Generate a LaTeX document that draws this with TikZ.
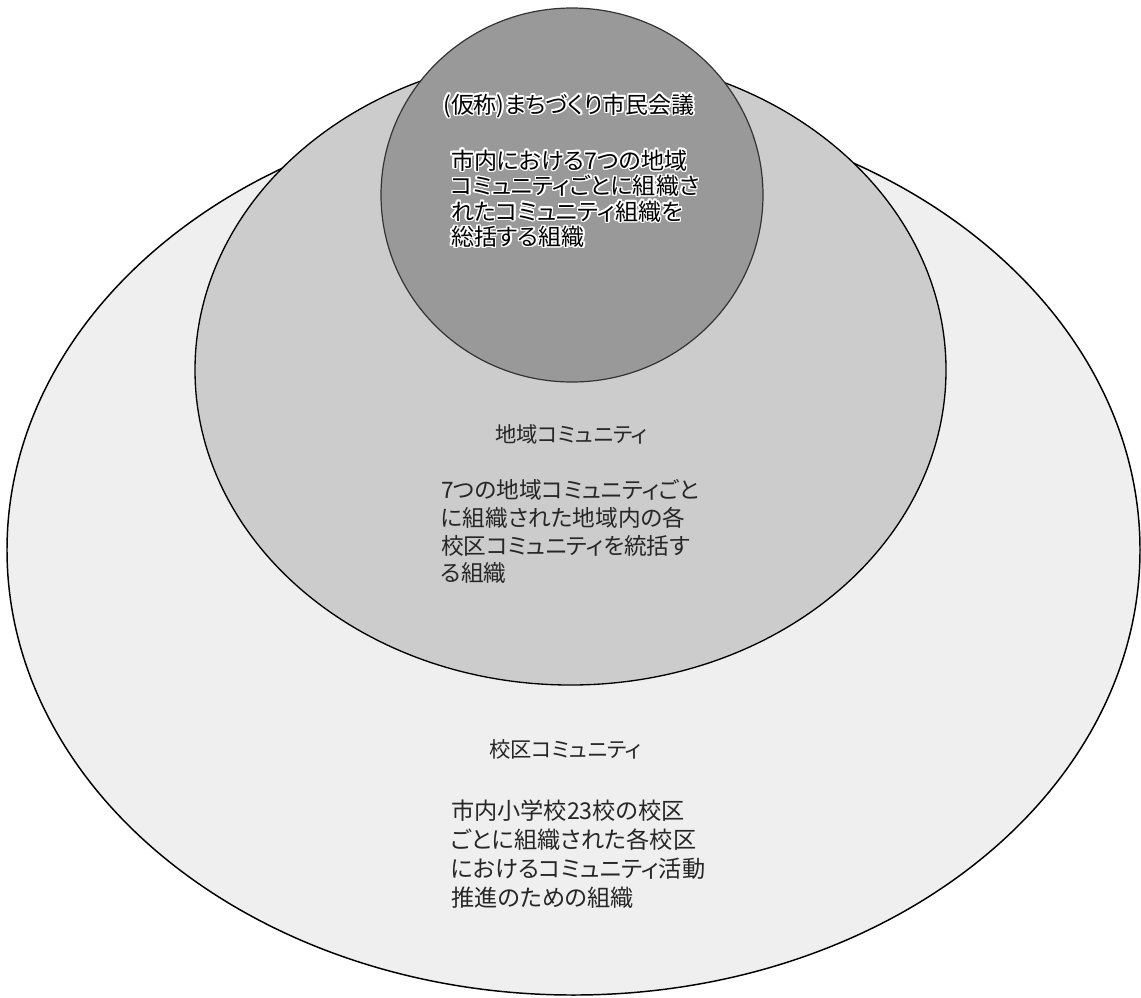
\documentclass[tikz,border=0pt]{standalone}
\usepackage{fontspec}
\usepackage{contour}
\newfontfamily\jp[RawFeature=+palt]{Noto Sans CJK JP}
\contourlength{1.1pt}
\definecolor{outerfill}{HTML}{EFEFEF}
\definecolor{midfill}{HTML}{CCCCCC}
\definecolor{innerfill}{HTML}{999999}
\definecolor{txt}{HTML}{262626}
\tikzset{
  ring/.style={draw=black, line width=1.1pt},
  line/.style={inner sep=0pt, outer sep=0pt, anchor=base west},
  ttl/.style={inner sep=0pt, outer sep=0pt, anchor=base},
}
\begin{document}
\begin{tikzpicture}[x=0.75pt,y=-0.75pt]
\useasboundingbox (0,0) rectangle (1141,997);
% ellipses
\draw[ring, fill=outerfill] (573.5,550) ellipse [x radius=566.5, y radius=445];
\draw[ring, fill=midfill, line width=1pt] (570.5,370) ellipse [x radius=375.5, y radius=315];
\draw[ring, fill=innerfill, draw=black!80, line width=0.9pt] (572,195) ellipse [x radius=191, y radius=187];
% inner circle texts
\node[ttl, font=\fontsize{17.2pt}{20pt}\jp] (s0) at (569,113) {\contour{white}{(仮称)まちづくり市民会議}};
\begin{scope}[every node/.style={line, font=\fontsize{17.3pt}{20pt}\jp}]
\node (s1) at (451,169) {\contour{white}{市内における7つの地域}};
\node (s2) at (451,194.5) {\contour{white}{コミュニティごとに組織さ}};
\node (s3) at (451,220) {\contour{white}{れたコミュニティ組織を}};
\node (s4) at (451,245.5) {\contour{white}{総括する組織}};
\end{scope}
% middle texts
\node[ttl, text=txt, font=\fontsize{16pt}{19pt}\jp] (m0) at (571.5,442.6) {地域コミュニティ};
\begin{scope}[every node/.style={line, text=txt, font=\fontsize{17pt}{20pt}\jp}]
\node (m1) at (441,498.7) {7つの地域コミュニティごと};
\node (m2) at (441,526.4) {に組織された地域内の各};
\node (m3) at (441,554) {校区コミュニティを統括す};
\node (m4) at (441,581.7) {る組織};
\end{scope}
% outer texts
\node[ttl, text=txt, font=\fontsize{16pt}{19pt}\jp] (o0) at (565.5,757.6) {校区コミュニティ};
\begin{scope}[every node/.style={line, text=txt, font=\fontsize{17.4pt}{21pt}\jp}]
\node (o1) at (451,819) {市内小学校23校の校区};
\node (o2) at (451,848) {ごとに組織された各校区};
\node (o3) at (451,877) {におけるコミュニティ活動};
\node (o4) at (451,906) {推進のための組織};
\end{scope}
\end{tikzpicture}
\end{document}
